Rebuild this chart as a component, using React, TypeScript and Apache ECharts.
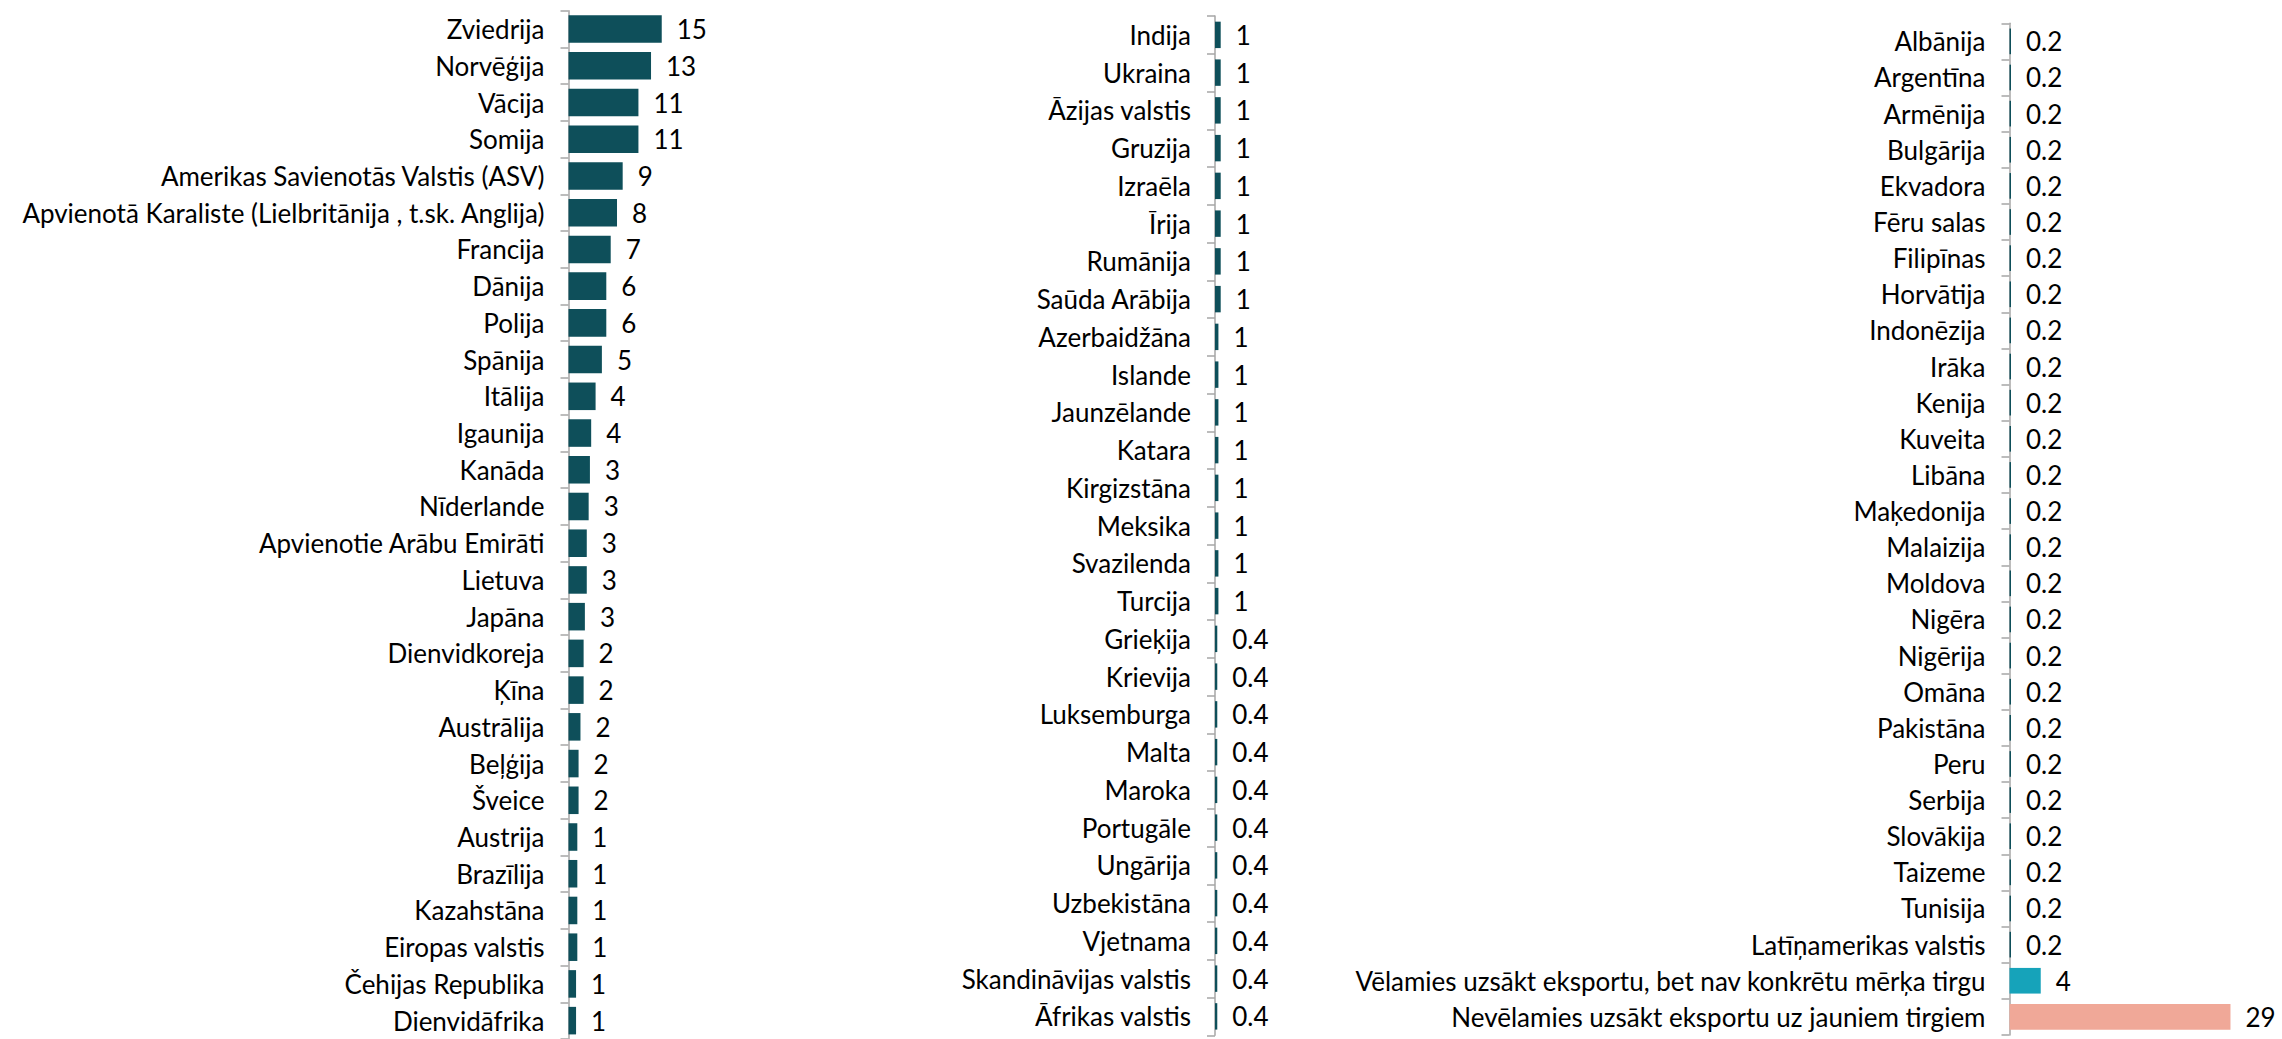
import React, { useEffect, useRef } from "react";
import * as echarts from "echarts";

const cats1 = [
  "Zviedrija", "Norvēģija", "Vācija", "Somija", "Amerikas Savienotās Valstis (ASV)",
  "Apvienotā Karaliste (Lielbritānija , t.sk. Anglija)", "Francija", "Dānija", "Polija", "Spānija",
  "Itālija", "Igaunija", "Kanāda", "Nīderlande", "Apvienotie Arābu Emirāti", "Lietuva", "Japāna",
  "Dienvidkoreja", "Ķīna", "Austrālija", "Beļģija", "Šveice", "Austrija", "Brazīlija", "Kazahstāna",
  "Eiropas valstis", "Čehijas Republika", "Dienvidāfrika",
];
const vals1 = [
  14.8, 13.1, 11.1, 11.1, 8.6, 7.7, 6.7, 6.0, 6.0, 5.3, 4.3, 3.6, 3.4, 3.2, 2.9, 2.9, 2.6,
  2.4, 2.4, 1.9, 1.6, 1.6, 1.4, 1.4, 1.4, 1.4, 1.2, 1.2,
];

const cats2 = [
  "Indija", "Ukraina", "Āzijas valstis", "Gruzija", "Izraēla", "Īrija", "Rumānija", "Saūda Arābija",
  "Azerbaidžāna", "Islande", "Jaunzēlande", "Katara", "Kirgizstāna", "Meksika", "Svazilenda", "Turcija",
  "Grieķija", "Krievija", "Luksemburga", "Malta", "Maroka", "Portugāle", "Ungārija", "Uzbekistāna",
  "Vjetnama", "Skandināvijas valstis", "Āfrikas valstis",
];
const vals2 = [
  1.0, 1.0, 1.0, 1.0, 1.0, 1.0, 1.0, 1.0,
  0.6, 0.6, 0.6, 0.6, 0.6, 0.6, 0.6, 0.6,
  0.4, 0.4, 0.4, 0.4, 0.4, 0.4, 0.4, 0.4, 0.4, 0.4, 0.4,
];

const cats3 = [
  "Albānija", "Argentīna", "Armēnija", "Bulgārija", "Ekvadora", "Fēru salas", "Filipīnas", "Horvātija",
  "Indonēzija", "Irāka", "Kenija", "Kuveita", "Libāna", "Maķedonija", "Malaizija", "Moldova", "Nigēra",
  "Nigērija", "Omāna", "Pakistāna", "Peru", "Serbija", "Slovākija", "Taizeme", "Tunisija",
  "Latīņamerikas valstis", "Vēlamies uzsākt eksportu, bet nav konkrētu mērķa tirgu",
  "Nevēlamies uzsākt eksportu uz jauniem tirgiem",
];
const vals3 = [
  0.2, 0.2, 0.2, 0.2, 0.2, 0.2, 0.2, 0.2, 0.2, 0.2, 0.2, 0.2, 0.2, 0.2, 0.2, 0.2, 0.2,
  0.2, 0.2, 0.2, 0.2, 0.2, 0.2, 0.2, 0.2, 0.2, 4.1, 29.0,
];

const TEAL = "#0E4F5A";
const CYAN = "#16A3BA";
const SALMON = "#F0A898";
const AXIS = "#A6A6A6";
const FONT = "Lato";
const FS = 26;

const fmt = (p: any) => {
  const v = p.value as number;
  return v < 0.5 ? v.toFixed(1) : String(Math.round(v));
};

export default function App() {
  const ref = useRef<HTMLDivElement>(null);
  useEffect(() => {
    if (!ref.current) return;
    const chart = echarts.init(ref.current, undefined, { renderer: "svg" });
    const grids = [
      { left: 568.5, top: 10.7, width: 252, height: 28 * 36.89 },
      { left: 1215, top: 16, width: 57, height: 27 * 37.75 },
      { left: 2009.5, top: 23.3, width: 228.6, height: 28 * 36.13 },
    ];
    const maxes = [40, 10, 30];
    const catsAll = [cats1, cats2, cats3];
    const gaps = ["25%", "30%", "29%"];
    const valsAll = [vals1, vals2, vals3];
    const option: any = {
      animation: false,
      grid: grids,
      xAxis: grids.map((_, i) => ({
        type: "value",
        gridIndex: i,
        min: 0,
        max: maxes[i],
        show: false,
        splitLine: { show: false },
      })),
      yAxis: grids.map((_, i) => ({
        type: "category",
        gridIndex: i,
        inverse: true,
        data: catsAll[i],
        axisLine: { show: true, lineStyle: { color: AXIS, width: 1.5 } },
        axisTick: { show: true, length: 8, lineStyle: { color: AXIS, width: 1.5 } },
        axisLabel: {
          color: "#000",
          fontFamily: FONT,
          fontSize: FS,
          margin: 24,
          interval: 0,
        },
      })),
      series: grids.map((_, i) => ({
        type: "bar",
        xAxisIndex: i,
        yAxisIndex: i,
        barCategoryGap: gaps[i],
        data: valsAll[i].map((v, j) => {
          let color = TEAL;
          if (i === 2 && j === vals3.length - 2) color = CYAN;
          if (i === 2 && j === vals3.length - 1) color = SALMON;
          return { value: v, itemStyle: { color } };
        }),
        label: {
          show: true,
          position: "right",
          distance: 15,
          color: "#000",
          fontFamily: FONT,
          fontSize: FS,
          formatter: fmt,
        },
      })),
    };
    chart.setOption(option);
    return () => chart.dispose();
  }, []);
  return (
    <div
      ref={ref}
      style={{ position: "absolute", left: 0, top: 0, width: 2282, height: 1039, background: "#fff" }}
    />
  );
}
